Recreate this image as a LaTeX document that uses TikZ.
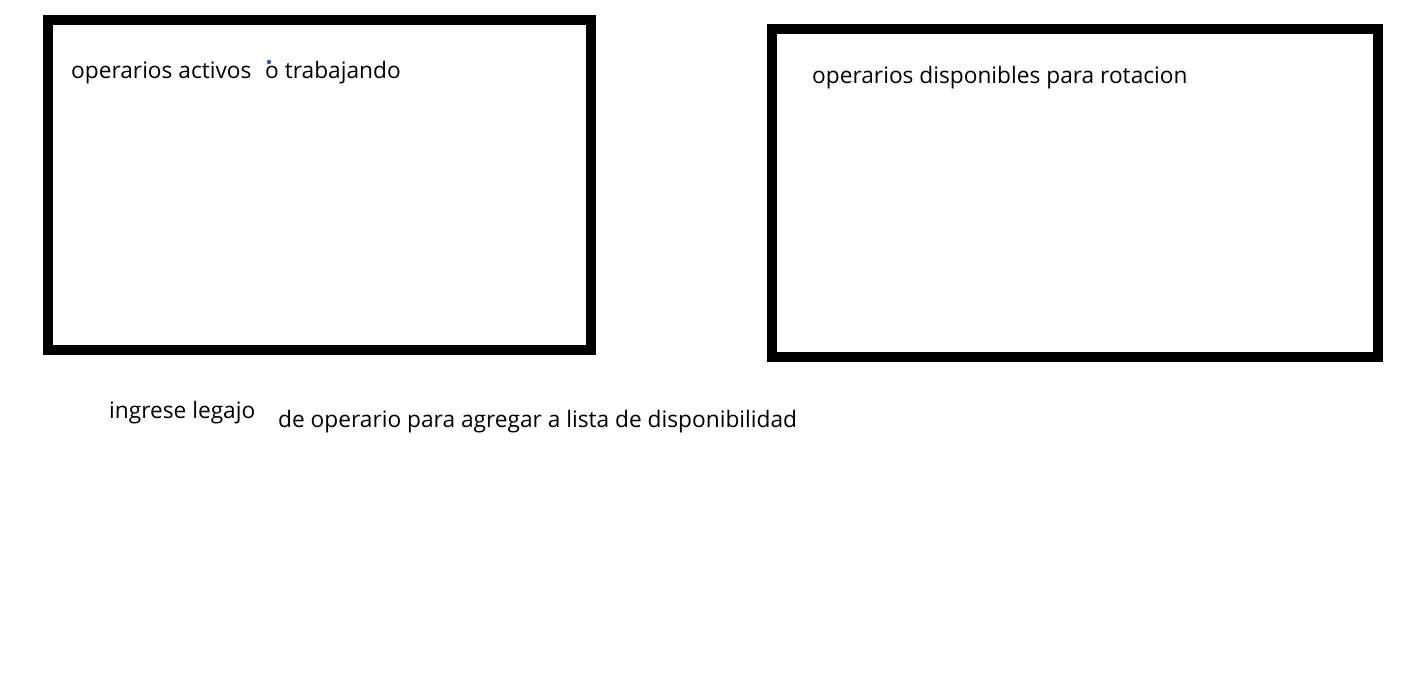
\documentclass[tikz,border=0pt]{standalone}
\usepackage{fontspec}
\setmainfont{Open Sans}
\definecolor{dotblue}{RGB}{70,75,200}
\tikzset{
  frame/.style={draw=black, line width=10pt},
  lbl/.style={anchor=base west, inner sep=0pt, font=\fontsize{22.7}{27}\selectfont}
}
\begin{document}
\begin{tikzpicture}[x=1pt,y=-1pt]
\useasboundingbox (0,0) rectangle (1416,672);
\fill[white] (0,0) rectangle (1416,672);
\draw[frame] (48,20) rectangle (591,350);
\draw[frame] (772,29) rectangle (1378,357);
\node[lbl] (t1) at (71,78) {operarios activos};
\node[lbl] (t2) at (265,78) {o trabajando};
\fill[dotblue] (269,62) circle (2.2);
\node[lbl] (t3) at (812,83) {operarios disponibles para rotacion};
\node[lbl] (t4) at (109,418) {ingrese legajo};
\node[lbl] (t5) at (278,427) {de operario para agregar a lista de disponibilidad};
\end{tikzpicture}
\end{document}
